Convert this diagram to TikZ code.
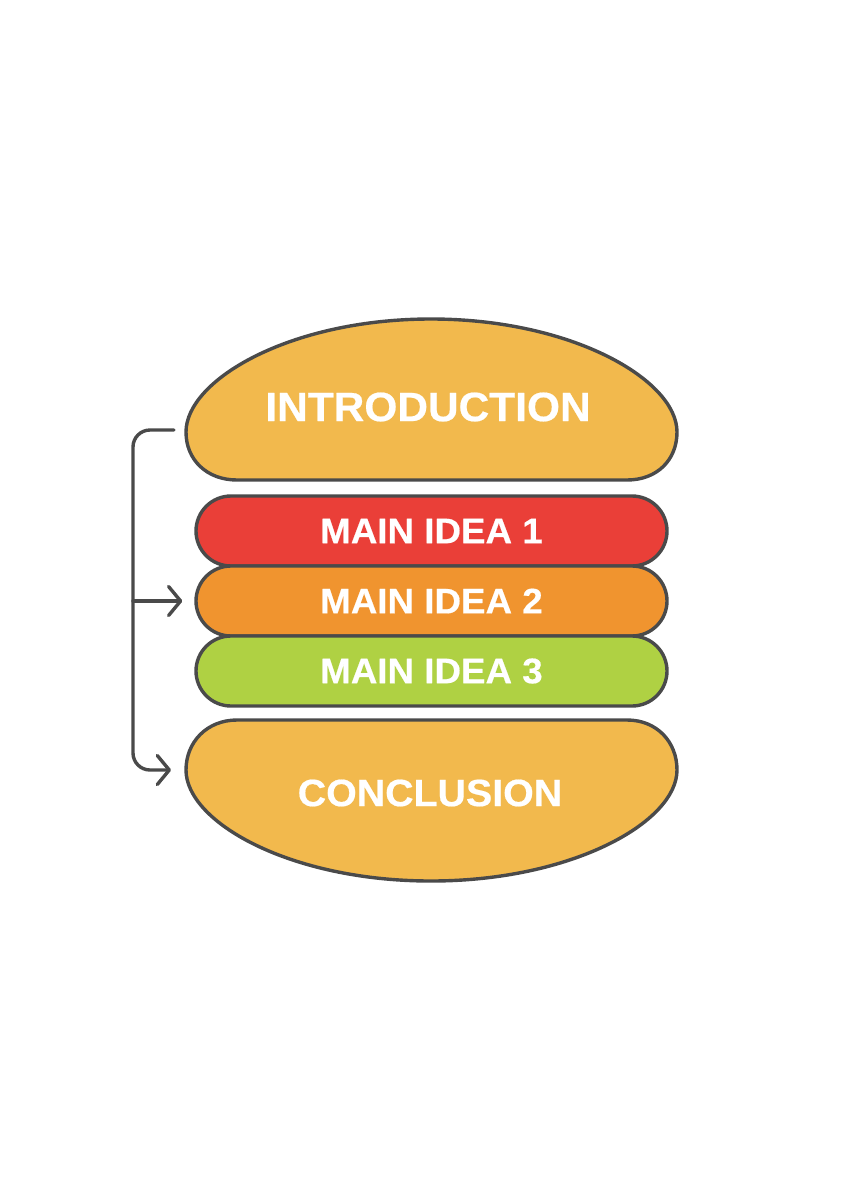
\documentclass[tikz,border=0pt]{standalone}
\usepackage{fontspec}
\setmainfont[FakeStretch=1.035,FakeBold=0.5]{Liberation Sans}
\usetikzlibrary{arrows.meta,shapes.misc}
\definecolor{bunfill}{HTML}{F2B94D}
\definecolor{ideared}{HTML}{EA3F38}
\definecolor{ideaorange}{HTML}{F0942F}
\definecolor{ideagreen}{HTML}{AFD143}
\definecolor{inkgrey}{HTML}{4A4A4A}
\tikzset{
  x=1pt,y=-1pt,
  bun/.style={fill=bunfill,draw=inkgrey,line width=3.4pt,line join=round},
  idea/.style={rounded rectangle,draw=inkgrey,line width=3.4pt,minimum width=471pt,minimum height=70pt,inner sep=0pt,text=white,font=\fontsize{35.5}{35.5}\selectfont\bfseries},
  buntext/.style={inner sep=0pt,text=white,font=\fontsize{41}{41}\selectfont\bfseries},
  conn/.style={draw=inkgrey,line width=3.4pt,line cap=round,rounded corners=17pt},
  tip/.style={-{Straight Barb[length=12pt,width=29pt,line width=3.4pt,round]}}
}
\begin{document}
\begin{tikzpicture}
\useasboundingbox[fill=white] (0,0) rectangle (864,1184);
% buns
\path[bun] (237,480) -- (627,480) .. controls (657,480) and (677,460) .. (677,432)
  .. controls (677,380) and (572,319) .. (431,319)
  .. controls (290,319) and (186,380) .. (186,432)
  .. controls (186,460) and (207,480) .. (237,480) -- cycle;
\path[bun] (237,720) -- (627,720) .. controls (657,720) and (677,742) .. (677,770)
  .. controls (677,822) and (572,881) .. (431,881)
  .. controls (290,881) and (186,822) .. (186,770)
  .. controls (186,742) and (207,720) .. (237,720) -- cycle;
\node[buntext] (intro) at (428,407) {INTRODUCTION};
\node[buntext,font=\fontsize{38}{38}\selectfont\bfseries] (concl) at (430,793) {CONCLUSION};
% filling
\node[idea,fill=ideared] (m1) at (431.5,531) {MAIN IDEA 1};
\node[idea,fill=ideaorange] (m2) at (431.5,601) {MAIN IDEA 2};
\node[idea,fill=ideagreen] (m3) at (431.5,671) {MAIN IDEA 3};
% connector
\coordinate (start) at (174,430);
\coordinate (branch) at (133,601);
\coordinate (bottom) at (186,770);
\draw[conn,tip,shorten >=15pt] (start) -- (133,430) -- (133,770) -- (bottom);
\draw[conn,tip,shorten >=12pt] (branch) -- (m2.west);
\end{tikzpicture}
\end{document}
